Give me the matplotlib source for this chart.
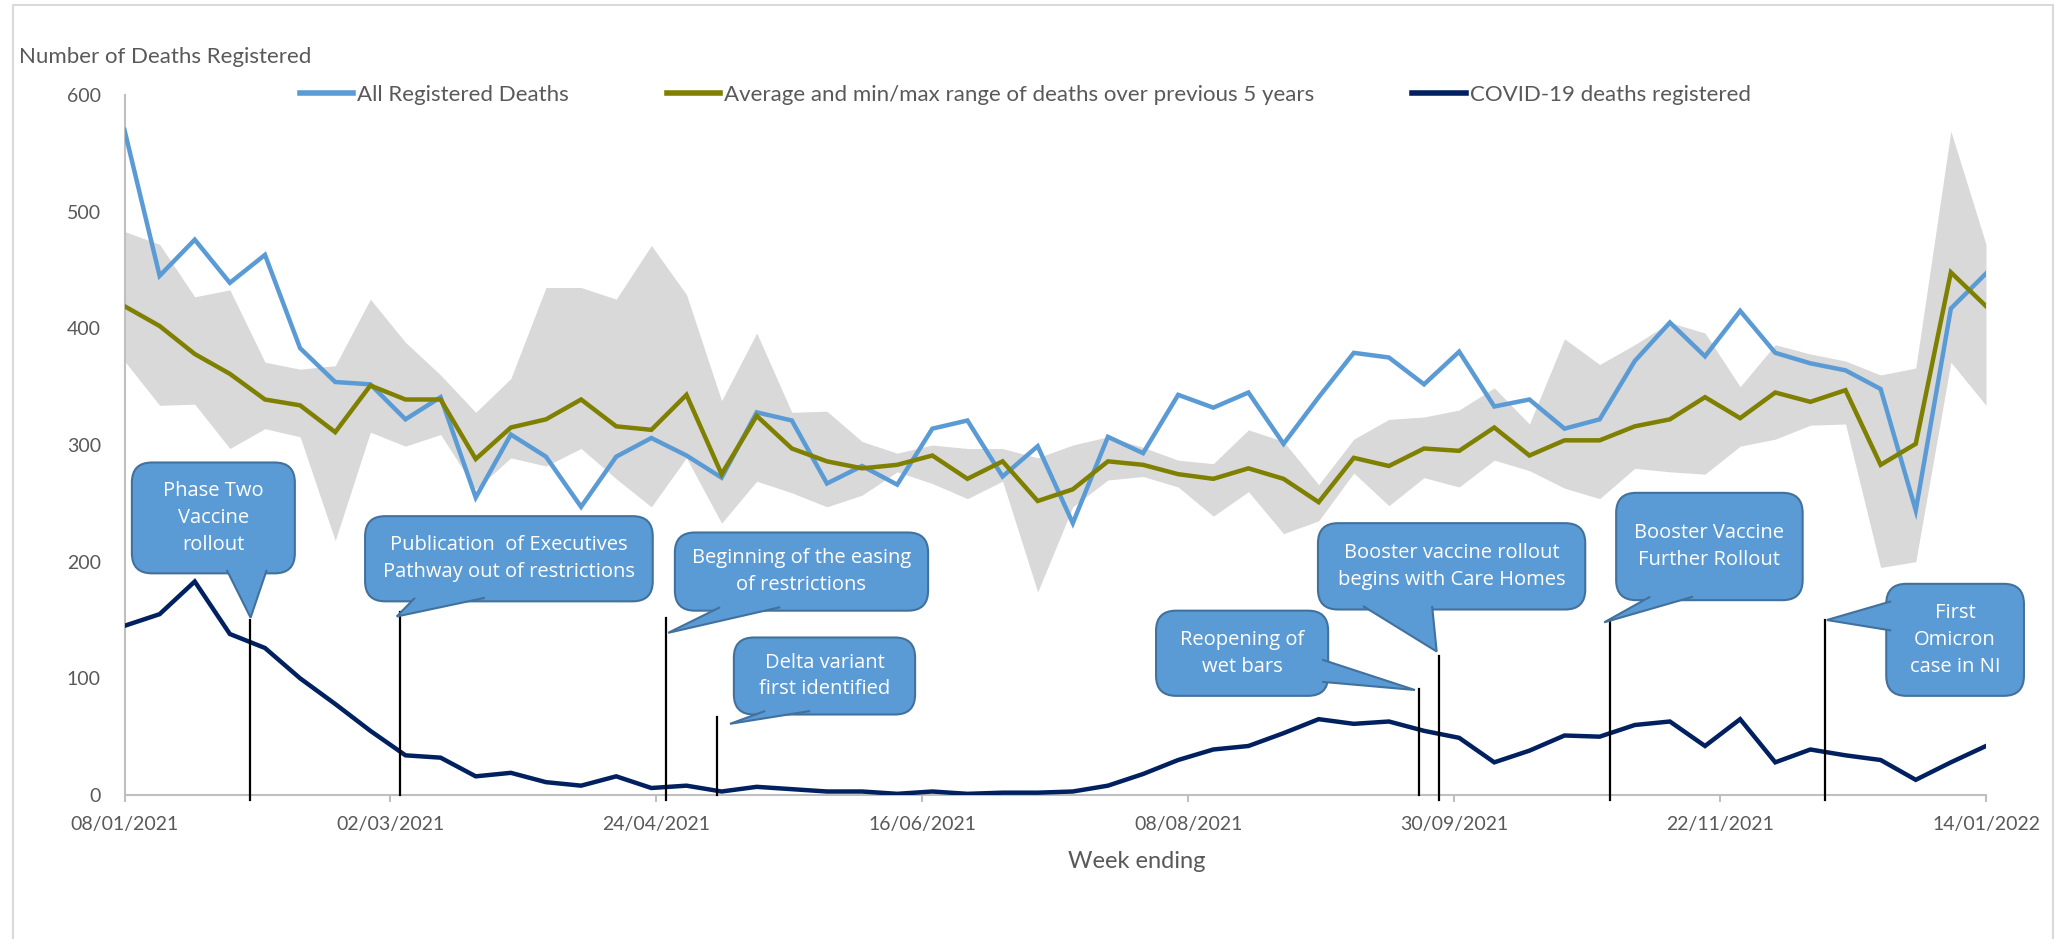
import matplotlib
matplotlib.use('Agg')
import matplotlib.pyplot as plt
import matplotlib.dates as mdates
from matplotlib.patches import FancyBboxPatch, Polygon, Rectangle
from matplotlib.lines import Line2D
import pandas as pd

plt.rcParams['font.family'] = ['Lato', 'DejaVu Sans']

# weekly registrations, week ending 08/01/2021 .. 14/01/2022
weeks = pd.date_range('2021-01-08', periods=54, freq='7D')

all_deaths = [570, 445, 476, 439, 463, 383, 354, 352, 322, 341,
              255, 309, 290, 247, 290, 306, 291, 272, 328, 321,
              267, 282, 266, 314, 321, 273, 299, 233, 307, 293,
              343, 332, 345, 301, 341, 379, 375, 352, 380, 333,
              339, 314, 322, 372, 405, 376, 415, 379, 370, 364,
              348, 244, 417, 447]
avg_5yr = [419, 402, 378, 361, 339, 334, 311, 351, 339, 339,
           288, 315, 322, 339, 316, 313, 343, 275, 325, 297,
           286, 280, 283, 291, 271, 286, 252, 262, 286, 283,
           275, 271, 280, 271, 251, 289, 282, 297, 295, 315,
           291, 304, 304, 316, 322, 341, 323, 345, 337, 347,
           283, 301, 448, 419]
max_5yr = [483, 472, 427, 433, 371, 365, 368, 425, 388, 360,
           328, 357, 435, 435, 425, 471, 429, 338, 396, 328,
           329, 303, 293, 300, 297, 297, 289, 300, 307, 298,
           287, 284, 313, 303, 266, 305, 322, 324, 330, 349,
           318, 391, 369, 386, 405, 396, 350, 386, 378, 372,
           360, 366, 569, 472]
min_5yr = [372, 334, 335, 297, 314, 307, 218, 311, 299, 309,
           262, 289, 282, 297, 271, 247, 289, 233, 269, 259,
           247, 257, 277, 267, 254, 269, 174, 247, 270, 273,
           264, 239, 260, 224, 235, 276, 248, 272, 264, 287,
           278, 263, 254, 280, 277, 275, 299, 305, 317, 318,
           195, 200, 371, 334]
covid_deaths = [145, 155, 183, 138, 126, 100, 78, 55, 34, 32,
                16, 19, 11, 8, 16, 6, 8, 3, 7, 5,
                3, 3, 1, 3, 1, 2, 2, 3, 8, 18,
                30, 39, 42, 53, 65, 61, 63, 55, 49, 28,
                38, 51, 50, 60, 63, 42, 65, 28, 39, 34,
                30, 13, 28, 42]

event_labels = ['Phase Two\nVaccine\nrollout',
                'Publication  of Executives\nPathway out of restrictions',
                'Beginning of the easing\nof restrictions',
                'Delta variant\nfirst identified',
                'Reopening of\nwet bars',
                'Booster vaccine rollout\nbegins with Care Homes',
                'Booster Vaccine\nFurther Rollout',
                'First\nOmicron\ncase in NI']
event_dates = ['2021-02-02', '2021-03-04', '2021-04-26', '2021-05-06',
               '2021-09-23', '2021-09-27', '2021-10-31', '2021-12-13']

# callout layout: box (week0, week1, val0, val1), tail points, line top/bottom
callout_layout = [
    dict(box=(0.21, 4.85, 190, 285), tail=[(2.91, 193), (3.59, 152), (4.05, 193)], line=(150, -4)),
    dict(box=(6.85, 15.04, 166, 239), tail=[(8.27, 169), (7.75, 153), (10.26, 169)], line=(157, 0)),
    dict(box=(15.67, 22.88, 158, 225), tail=[(16.96, 161), (15.48, 139), (18.67, 161)], line=(152, -4)),
    dict(box=(17.35, 22.51, 69, 135), tail=[(18.24, 72), (17.24, 61), (19.52, 72)], line=(67, 0)),
    dict(box=(29.37, 34.27, 85, 158), tail=[(34.1, 116), (36.74, 90), (34.1, 97)], line=(91, 0)),
    dict(box=(33.98, 41.59, 159, 233), tail=[(35.26, 162), (37.36, 123), (37.23, 162)], line=(119, -4)),
    dict(box=(42.47, 47.78, 167, 259), tail=[(43.44, 170), (42.13, 148), (44.66, 170)], line=(148, -4)),
    dict(box=(50.16, 54.08, 85, 181), tail=[(50.3, 166), (48.47, 150), (50.3, 141)], line=(150, -4)),
]

text_col = '#595959'
axis_col = '#BFBFBF'
call_fill = '#5B9BD5'
call_edge = '#41719C'

W, H = 2062, 939
fig = plt.figure(figsize=(W / 100, H / 100), dpi=100)
ax_left, ax_right, ax_bottom, ax_top = 124.5, 1986, 795, 95
ax = fig.add_axes([ax_left / W, 1 - ax_bottom / H, (ax_right - ax_left) / W, (ax_bottom - ax_top) / H])

x = mdates.date2num(weeks)
x0 = x[0]


def wk(w):
    return x0 + 7 * w


ax.fill_between(x, min_5yr, max_5yr, color='#D9D9D9', lw=0, zorder=1)
ax.plot(x, all_deaths, color='#5B9BD5', lw=3.2, zorder=3, solid_joinstyle='miter')
ax.plot(x, avg_5yr, color='#7F7F00', lw=3.2, zorder=4, solid_joinstyle='miter')
ax.plot(x, covid_deaths, color='#002060', lw=3.2, zorder=5, solid_joinstyle='miter')

ax.set_xlim(x[0], x[-1])
ax.set_ylim(0, 600)
ax.set_yticks(range(0, 601, 100))
xt = pd.date_range(weeks[0], weeks[-1], periods=8)
ax.set_xticks(mdates.date2num(xt))
ax.set_xticklabels([d.strftime('%d/%m/%Y') for d in xt])

for s in ['top', 'right']:
    ax.spines[s].set_visible(False)
for s in ['left', 'bottom']:
    ax.spines[s].set_color(axis_col)
    ax.spines[s].set_linewidth(1.5)
ax.tick_params(axis='y', length=0, pad=17, labelsize=14, labelcolor=text_col)
ax.tick_params(axis='x', length=5, width=1.5, color=axis_col, direction='out',
               pad=10, labelsize=14, labelcolor=text_col)

fig.text(19 / W, 1 - 57 / H, 'Number of Deaths Registered', ha='left', va='center',
         fontsize=16, color=text_col)
fig.text(1137 / W, 1 - 861 / H, 'Week ending', ha='center', va='center',
         fontsize=17, color=text_col)

# legend
handles = [Line2D([], [], color='#5B9BD5', lw=4),
           Line2D([], [], color='#7F7F00', lw=4),
           Line2D([], [], color='#002060', lw=4)]
labels = ['All Registered Deaths',
          'Average and min/max range of deaths over previous 5 years',
          'COVID-19 deaths registered']
fig.legend(handles, labels, ncol=3, loc='center left', bbox_to_anchor=(300 / W, 1 - 95 / H),
           frameon=False, handlelength=2.4, handletextpad=0.18, columnspacing=4.4,
           borderpad=0, borderaxespad=0, fontsize=16, labelcolor=text_col)

# callouts
px_per_day = (ax_right - ax_left) / (x[-1] - x[0])
px_per_val = (ax_bottom - ax_top) / 600
aspect = px_per_day / px_per_val
for label, date, lay in zip(event_labels, event_dates, callout_layout):
    d = mdates.date2num(pd.Timestamp(date))
    ytop, ybot = lay['line']
    ax.plot([d, d], [ytop, ybot], color='black', lw=1.6, zorder=6, clip_on=False)
    w0, w1, v0, v1 = lay['box']
    box = FancyBboxPatch((wk(w0), v0), wk(w1) - wk(w0), v1 - v0,
                         boxstyle='round,pad=0,rounding_size=4', mutation_aspect=aspect,
                         facecolor=call_fill, edgecolor=call_edge, lw=1.5, zorder=7, clip_on=False)
    ax.add_patch(box)
    tail = Polygon([(wk(a), b) for a, b in lay['tail']], closed=False,
                   facecolor=call_fill, edgecolor=call_edge, lw=1.5, zorder=8, clip_on=False)
    ax.add_patch(tail)
    ax.text((wk(w0) + wk(w1)) / 2, (v0 + v1) / 2, label, ha='center', va='center',
            color='white', fontsize=14.5, linespacing=1.45, zorder=9, clip_on=False,
            family=['Open Sans', 'DejaVu Sans'])

# chart border
fig.add_artist(Rectangle((13 / W, -0.01), (2053 - 13) / W, 1.01 - 5 / H, transform=fig.transFigure,
                         fill=False, edgecolor='#D9D9D9', lw=1.5))

fig.savefig('out.png', dpi=100)
